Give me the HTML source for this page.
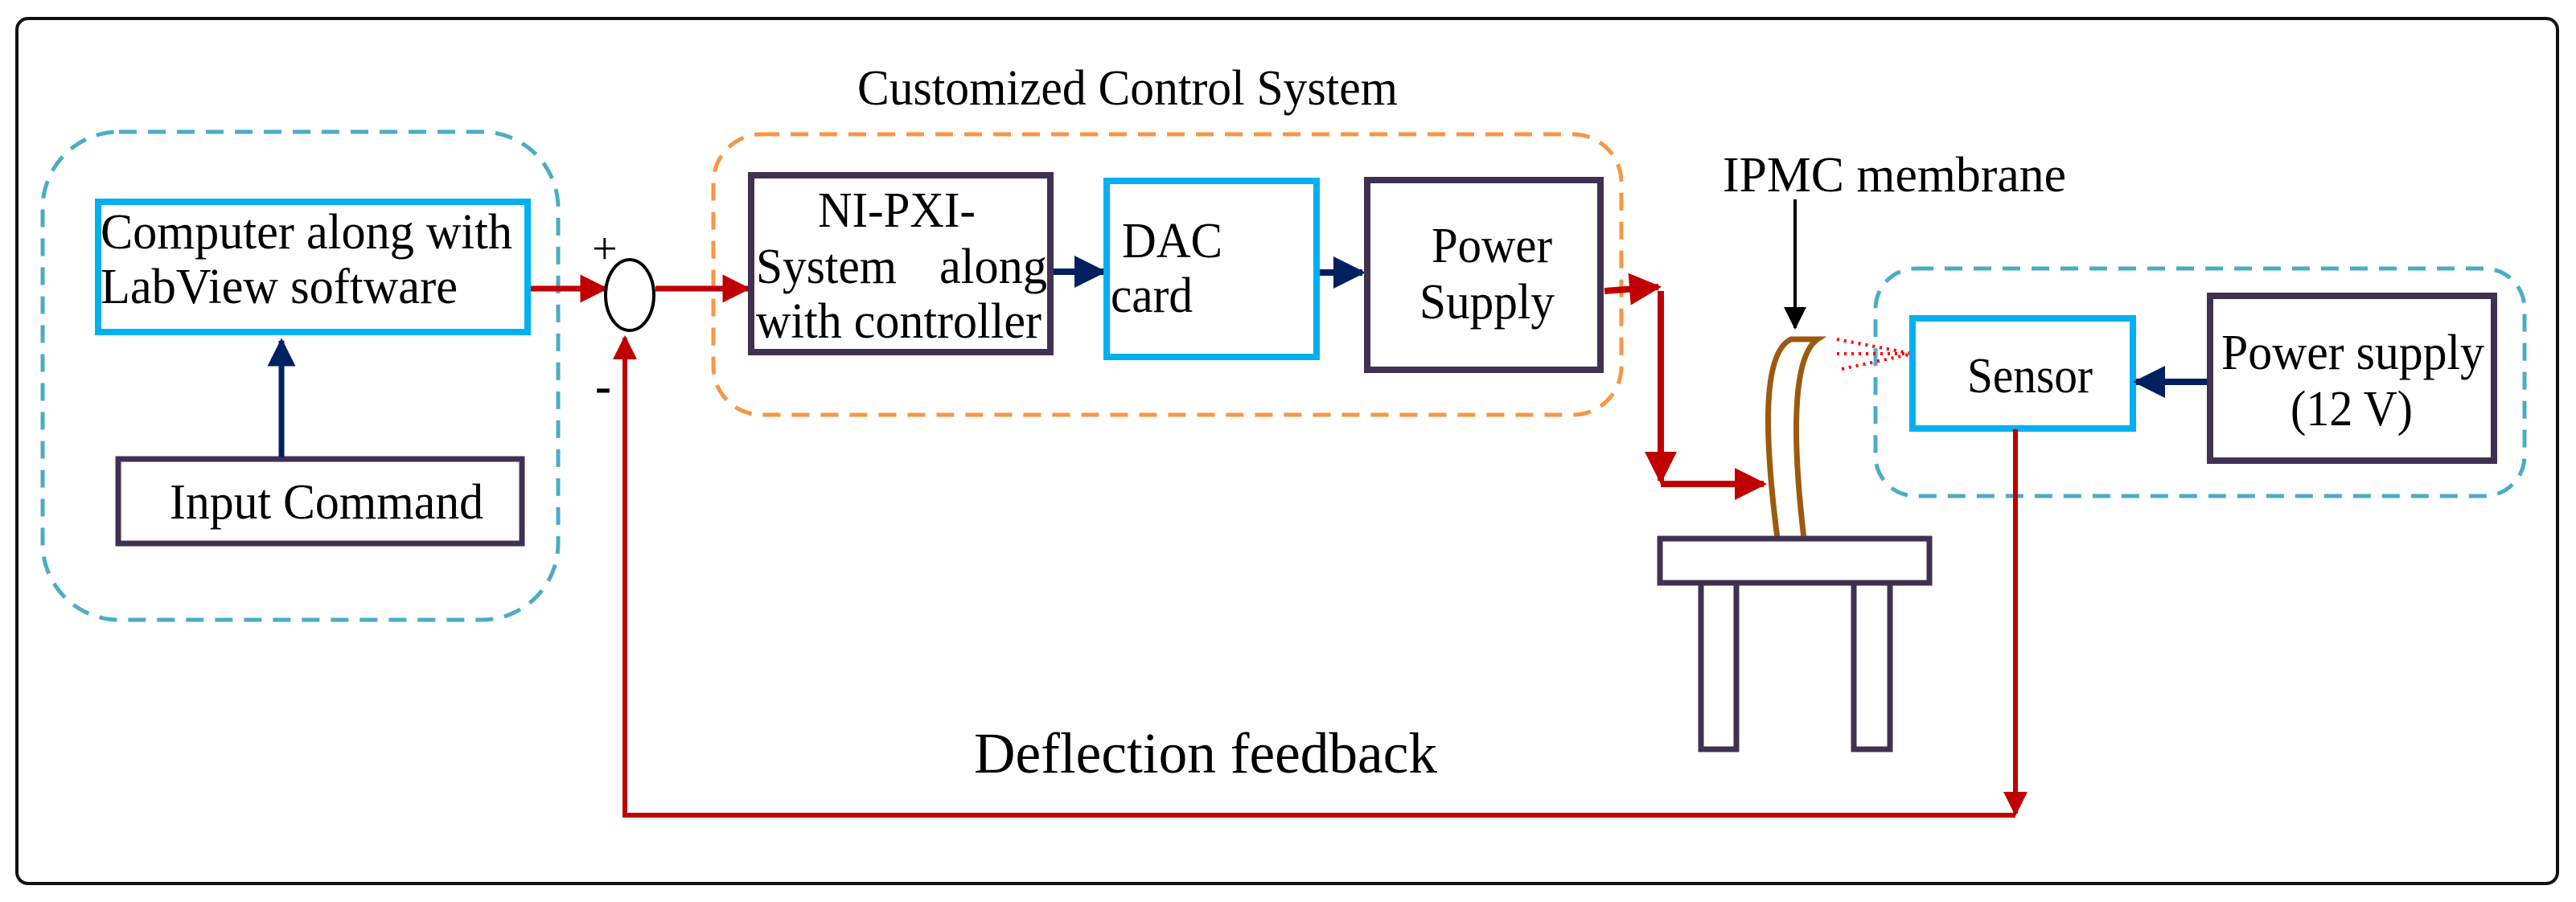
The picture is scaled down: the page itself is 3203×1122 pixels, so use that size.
<!DOCTYPE html>
<html><head><meta charset="utf-8"><style>
html,body{margin:0;padding:0;background:#fff;}
svg{display:block;}
text{font-family:"Liberation Serif",serif;fill:#000;}
</style></head><body>
<svg width="3203" height="1122" viewBox="0 0 3203 1122" xmlns="http://www.w3.org/2000/svg">
<defs>
<marker id="r" markerWidth="5" markerHeight="5" refX="4.5" refY="2.5" orient="auto" markerUnits="strokeWidth"><path d="M0,0 L5,2.5 L0,5 z" fill="#c00000"/></marker>
<marker id="n" markerWidth="5" markerHeight="5" refX="4.5" refY="2.5" orient="auto" markerUnits="strokeWidth"><path d="M0,0 L5,2.5 L0,5 z" fill="#002060"/></marker>
<marker id="k" markerWidth="7" markerHeight="7" refX="6.5" refY="3.5" orient="auto" markerUnits="strokeWidth"><path d="M0,0 L7,3.5 L0,7 z" fill="#000"/></marker>
</defs>
<rect x="21" y="23" width="3159" height="1076" rx="14" fill="none" stroke="#111" stroke-width="4"/>

<rect x="53" y="164" width="641" height="607" rx="95" fill="none" stroke="#4bacc6" stroke-width="5" stroke-dasharray="22,14"/>
<rect x="887" y="167" width="1129" height="349" rx="60" fill="none" stroke="#f79646" stroke-width="5" stroke-dasharray="22,14"/>
<rect x="2332" y="334" width="807" height="283" rx="50" fill="none" stroke="#4bacc6" stroke-width="5" stroke-dasharray="22,14"/>

<text x="1066" y="130" font-size="62" textLength="672" lengthAdjust="spacingAndGlyphs">Customized Control System</text>

<rect x="122" y="251" width="534" height="162" fill="none" stroke="#00b0f0" stroke-width="8"/>
<text x="125" y="309" font-size="62" textLength="512" lengthAdjust="spacingAndGlyphs">Computer along with</text>
<text x="125" y="377" font-size="62" textLength="444" lengthAdjust="spacingAndGlyphs">LabView software</text>

<rect x="147" y="571" width="502" height="105" fill="none" stroke="#3f3151" stroke-width="7"/>
<text x="211" y="645" font-size="62" textLength="390" lengthAdjust="spacingAndGlyphs">Input Command</text>
<line x1="350" y1="569" x2="350" y2="424" stroke="#002060" stroke-width="7" marker-end="url(#n)"/>

<line x1="660" y1="359" x2="753" y2="359" stroke="#c00000" stroke-width="7" marker-end="url(#r)"/>
<ellipse cx="783" cy="367" rx="30" ry="44" fill="none" stroke="#000" stroke-width="4"/>
<text x="736" y="328" font-size="56">+</text>
<text x="740" y="500" font-size="60" font-weight="bold" font-family="Liberation Sans,sans-serif">-</text>
<line x1="815" y1="359" x2="930" y2="359" stroke="#c00000" stroke-width="7" marker-end="url(#r)"/>

<rect x="934" y="218" width="372" height="220" fill="none" stroke="#3f3151" stroke-width="8"/>
<text x="1017" y="282" font-size="62" textLength="196" lengthAdjust="spacingAndGlyphs">NI-PXI-</text>
<text x="940" y="352" font-size="62" textLength="175" lengthAdjust="spacingAndGlyphs">System</text>
<text x="1168" y="352" font-size="62" textLength="134" lengthAdjust="spacingAndGlyphs">along</text>
<text x="940" y="420" font-size="62" textLength="355" lengthAdjust="spacingAndGlyphs">with controller</text>
<line x1="1310" y1="338" x2="1372" y2="338" stroke="#002060" stroke-width="8" marker-end="url(#n)"/>

<rect x="1376" y="225" width="261" height="219" fill="none" stroke="#00b0f0" stroke-width="8"/>
<text x="1395" y="320" font-size="62" textLength="125" lengthAdjust="spacingAndGlyphs">DAC</text>
<text x="1381" y="388" font-size="62" textLength="102" lengthAdjust="spacingAndGlyphs">card</text>
<line x1="1641" y1="339" x2="1694" y2="339" stroke="#002060" stroke-width="8" marker-end="url(#n)"/>

<rect x="1700" y="224" width="290" height="236" fill="none" stroke="#3f3151" stroke-width="8"/>
<text x="1780" y="326" font-size="62" textLength="150" lengthAdjust="spacingAndGlyphs">Power</text>
<text x="1765" y="396" font-size="62" textLength="168" lengthAdjust="spacingAndGlyphs">Supply</text>

<line x1="1995" y1="362" x2="2062" y2="357" stroke="#c00000" stroke-width="8" marker-end="url(#r)"/>
<line x1="2065" y1="362" x2="2065" y2="598" stroke="#c00000" stroke-width="8" marker-end="url(#r)"/>
<line x1="2065" y1="602" x2="2193" y2="602" stroke="#c00000" stroke-width="8" marker-end="url(#r)"/>

<text x="2142" y="238" font-size="62" textLength="427" lengthAdjust="spacingAndGlyphs">IPMC membrane</text>
<line x1="2232" y1="248" x2="2232" y2="408" stroke="#000" stroke-width="4" marker-end="url(#k)"/>
<path d="M2210,670 C2196,560 2188,440 2227,422 L2260,422 C2226,445 2230,560 2243,670" fill="none" stroke="#9c5a0f" stroke-width="7"/>
<g stroke="#ff0000" stroke-width="4" stroke-dasharray="3,6" fill="none">
<line x1="2284" y1="422" x2="2378" y2="440"/>
<line x1="2284" y1="440" x2="2378" y2="440"/>
<line x1="2290" y1="459" x2="2378" y2="440"/>
</g>

<rect x="2064" y="670" width="335" height="55" fill="none" stroke="#3f3151" stroke-width="7"/>
<rect x="2115" y="725" width="44" height="207" fill="none" stroke="#3f3151" stroke-width="7"/>
<rect x="2305" y="725" width="45" height="207" fill="none" stroke="#3f3151" stroke-width="7"/>

<rect x="2378" y="396" width="274" height="137" fill="none" stroke="#00b0f0" stroke-width="8"/>
<text x="2446" y="488" font-size="62" textLength="156" lengthAdjust="spacingAndGlyphs">Sensor</text>
<line x1="2745" y1="475" x2="2656" y2="475" stroke="#002060" stroke-width="8" marker-end="url(#n)"/>
<rect x="2748" y="368" width="353" height="205" fill="none" stroke="#3f3151" stroke-width="8"/>
<text x="2762" y="459" font-size="62" textLength="327" lengthAdjust="spacingAndGlyphs">Power supply</text>
<text x="2848" y="529" font-size="62" textLength="152" lengthAdjust="spacingAndGlyphs">(12 V)</text>

<line x1="2506" y1="534" x2="2506" y2="1012" stroke="#c00000" stroke-width="6" marker-end="url(#r)"/>
<polyline points="2506,1014 777,1014 777,420" fill="none" stroke="#c00000" stroke-width="6" marker-end="url(#r)"/>
<text x="1211" y="961" font-size="72" textLength="576" lengthAdjust="spacingAndGlyphs">Deflection feedback</text>
</svg>
</body></html>
